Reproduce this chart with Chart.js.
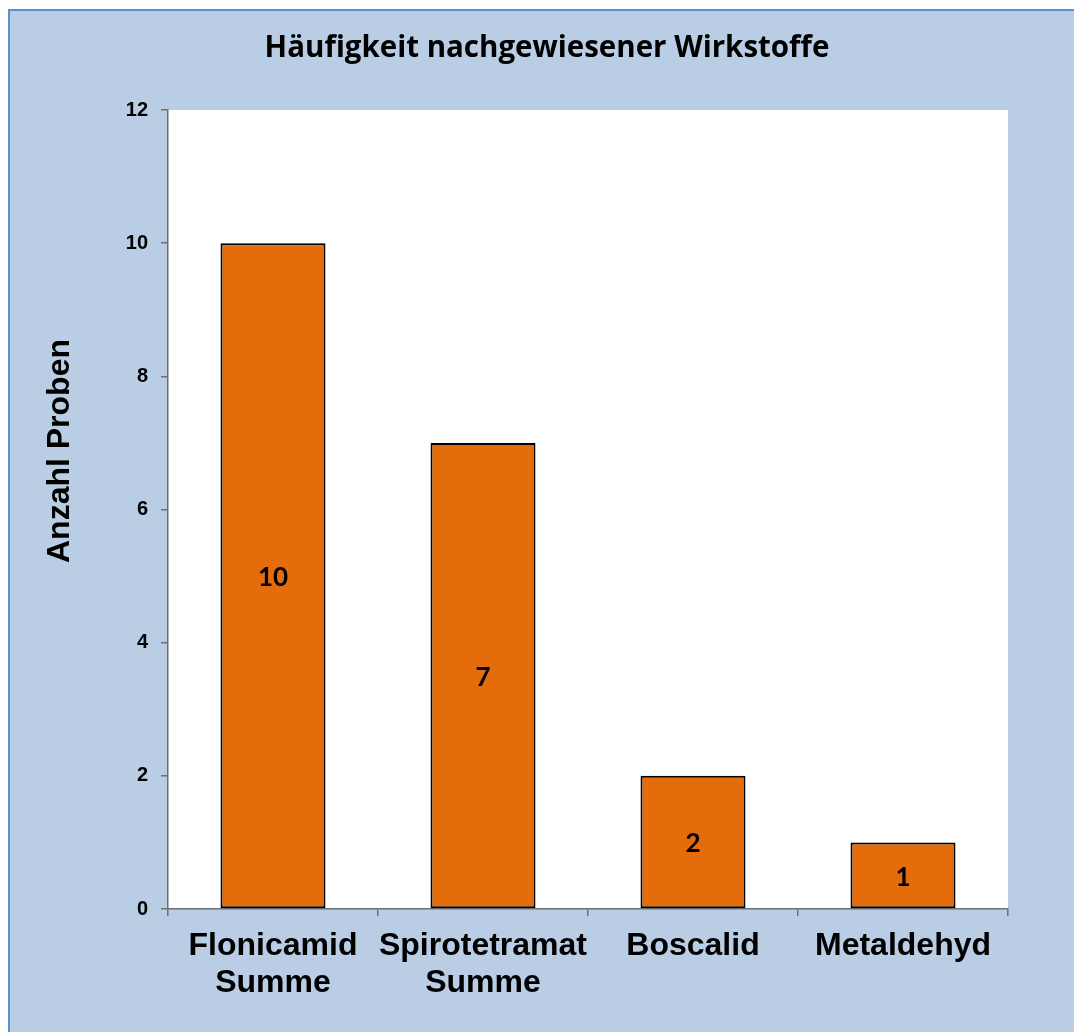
<!DOCTYPE html>
<html>
<head>
<meta charset="utf-8">
<script src="https://cdn.jsdelivr.net/npm/chart.js@4/dist/chart.umd.min.js"></script>
<style>
  html, body { margin: 0; padding: 0; background: #fff; }
  #wrap { position: absolute; left: 0; top: 0; width: 1074px; height: 1032px; }
</style>
</head>
<body>
<div id="wrap"><canvas id="myChart"></canvas></div>
<script>
// Daten
const categories = [['Flonicamid', 'Summe'], ['Spirotetramat', 'Summe'], 'Boscalid', 'Metaldehyd'];
const anzahlProben = [10, 7, 2, 1];
const yMin = 0, yMax = 12, yStep = 2;
const yTitel = 'Anzahl Proben';

// Hintergrund (Rahmen + weisse Zeichenfläche)
const frame = {
    id: 'frame',
    beforeDraw(chart) {
        const c = chart.ctx, a = chart.chartArea;
        c.save();
        c.fillStyle = '#ffffff';
        c.fillRect(0, 0, chart.width, chart.height);
        c.fillStyle = '#b9cde5';
        c.fillRect(8, 9, chart.width - 8, chart.height - 9);
        c.fillStyle = '#5b8fd5';
        c.fillRect(8, 9, 2, chart.height - 9);
        c.fillRect(8, 9, chart.width - 8, 2);
        c.fillStyle = '#ffffff';
        c.fillRect(a.left, a.top, a.right - a.left, a.bottom - a.top);
        c.restore();
    }
};

// Werte in die Balken schreiben + Achsentitel links
const barLabels = {
    id: 'barLabels',
    afterDraw(chart) {
        const c = chart.ctx;
        c.save();
        c.font = 'bold 26px Lato';
        c.fillStyle = '#000';
        c.textAlign = 'center';
        c.textBaseline = 'middle';
        chart.getDatasetMeta(0).data.forEach((bar, i) => {
            c.fillText(String(anzahlProben[i]), bar.x, (bar.y + bar.base) / 2 + 2);
        });
        // y-Achsentitel (in Excel nicht mittig zur Achse)
        c.translate(60, 451);
        c.rotate(-Math.PI / 2);
        c.font = 'bold 32px "Liberation Sans"';
        c.fillText(yTitel, 0, 0);
        c.restore();
    }
};

const ctx = document.getElementById('myChart').getContext('2d');
new Chart(ctx, {
    type: 'bar',
    data: {
        labels: categories,
        datasets: [{
            data: anzahlProben,
            backgroundColor: '#e46c0a',
            borderColor: '#000000',
            borderWidth: 2,
            borderSkipped: false,
            categoryPercentage: 1,
            barPercentage: 0.5
        }]
    },
    options: {
        responsive: true,
        maintainAspectRatio: false,
        animation: false,
        layout: { padding: { left: 86, right: 66, top: 0, bottom: 0 } },
        plugins: {
            legend: { display: false },
            tooltip: { enabled: false },
            title: {
                display: true,
                text: 'Häufigkeit nachgewiesener Wirkstoffe',
                color: '#000',
                font: { family: 'Open Sans', size: 29.5, weight: 'bold' },
                padding: { top: 31, bottom: 43.6 }
            }
        },
        scales: {
            x: {
                grid: { display: true, drawOnChartArea: false, offset: true, tickLength: 7, color: '#6f6f6f', lineWidth: 1.5 },
                border: { color: '#6f6f6f', width: 1.5 },
                ticks: {
                    color: '#000',
                    font: { family: 'Liberation Sans', size: 32, weight: 'bold', lineHeight: 1.15 },
                    padding: 12,
                    maxRotation: 0,
                    autoSkip: false
                },
                afterFit(scale) { scale.height = 123; }
            },
            y: {
                min: yMin,
                max: yMax,
                grid: { display: true, drawOnChartArea: false, tickLength: 7, color: '#6f6f6f', lineWidth: 1.5 },
                border: { color: '#6f6f6f', width: 1.5 },
                ticks: {
                    stepSize: yStep,
                    color: '#000',
                    font: { family: 'Liberation Sans', size: 20, weight: 'bold' },
                    padding: 13
                },
                afterFit(scale) { scale.width = 82; }
            }
        }
    },
    plugins: [frame, barLabels]
});
</script>
</body>
</html>
